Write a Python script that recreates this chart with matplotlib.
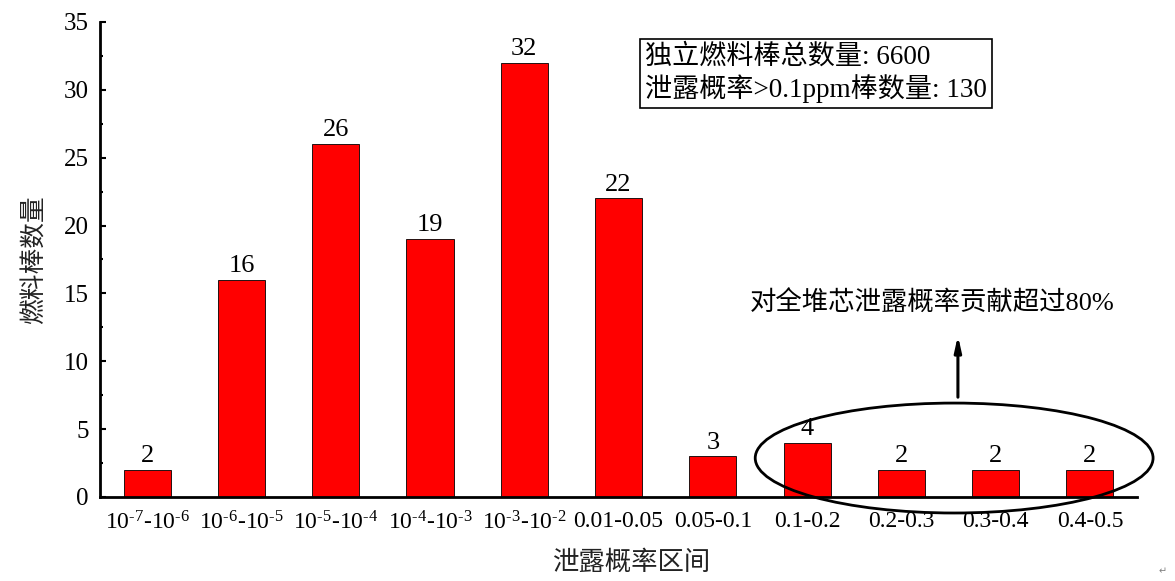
import numpy as np
import matplotlib
matplotlib.use("Agg")
import matplotlib.pyplot as plt
from matplotlib.patches import Ellipse

plt.rcParams['font.family'] = ['Liberation Serif', 'Noto Sans CJK SC', 'DejaVu Sans']
plt.rcParams['mathtext.fontset'] = 'custom'
plt.rcParams['mathtext.rm'] = 'Liberation Serif'

# -----------------------------------------
# DATA
# -----------------------------------------
exps = [(7, 6), (6, 5), (5, 4), (4, 3), (3, 2)]
labels = [r'$\mathrm{10^{\text{-}%d}}$-$\mathrm{10^{\text{-}%d}}$' % e for e in exps]
labels += ['0.01-0.05', '0.05-0.1', '0.1-0.2', '0.2-0.3', '0.3-0.4', '0.4-0.5']
counts = [2, 16, 26, 19, 32, 22, 3, 4, 2, 2, 2]

# -----------------------------------------
# PLOT
# -----------------------------------------
fig = plt.figure(figsize=(11.75, 5.81), dpi=100)
ax = fig.add_axes([0.0851, 0.1446, 0.8826, 0.8176])

x = np.arange(len(counts))
ax.bar(x, counts, width=0.5, color='#ff0000', edgecolor='black', linewidth=0.6)

for xi, c in zip(x, counts):
    ax.text(xi, c + 0.2, str(c), ha='center', va='bottom', fontsize=19)

ax.set_xlim(-0.5, 10.5)
ax.set_ylim(0, 35)
ax.set_xticks(x)
ax.set_xticklabels(labels, fontsize=17)
ax.set_yticks(np.arange(0, 36, 5))
ax.set_yticks(np.arange(2.5, 35, 5), minor=True)
ax.tick_params(axis='y', which='major', direction='in', length=4, width=1.5, labelsize=18, pad=8)
ax.tick_params(axis='y', which='minor', direction='in', length=2.5, width=1.5)
ax.tick_params(axis='x', length=0, pad=10)

for s in ['top', 'right']:
    ax.spines[s].set_visible(False)
for s in ['left', 'bottom']:
    ax.spines[s].set_linewidth(2)

ax.set_ylabel('燃料棒数量', fontsize=18.5, family=['Noto Sans CJK SC'], labelpad=12, color='#222222')
ax.set_xlabel('泄露概率区间', fontsize=19, family=['Noto Sans CJK SC'], labelpad=2, color='#222222')
ax.xaxis.set_label_coords(0.512, -0.11)

# info box
ax.text(5.28, 31.2, '独立燃料棒总数量: 6600\n泄露概率>0.1ppm棒数量: 130',
        fontsize=19.5, ha='left', va='center', linespacing=1.2,
        bbox=dict(boxstyle='square,pad=0.2', facecolor='white', edgecolor='black', linewidth=1.2))

# ellipse around the high-probability bins
ax.add_patch(Ellipse((8.56, 2.87), 4.22, 8.1, fill=False, edgecolor='black', linewidth=2, clip_on=False))

ax.annotate('', xy=(8.6, 12.1), xytext=(8.6, 7.15),
            arrowprops=dict(arrowstyle='-|>,head_length=0.9,head_width=0.2', color='black', lw=2.2))
ax.text(8.33, 14.3, '对全堆芯泄露概率贡献超过80%', fontsize=19, ha='center', va='center')

fig.text(0.993, 0.008, '↵', fontsize=7, color='gray', family=['DejaVu Sans'], ha='right', va='bottom')

fig.savefig('out.png', dpi=100, facecolor='white')
